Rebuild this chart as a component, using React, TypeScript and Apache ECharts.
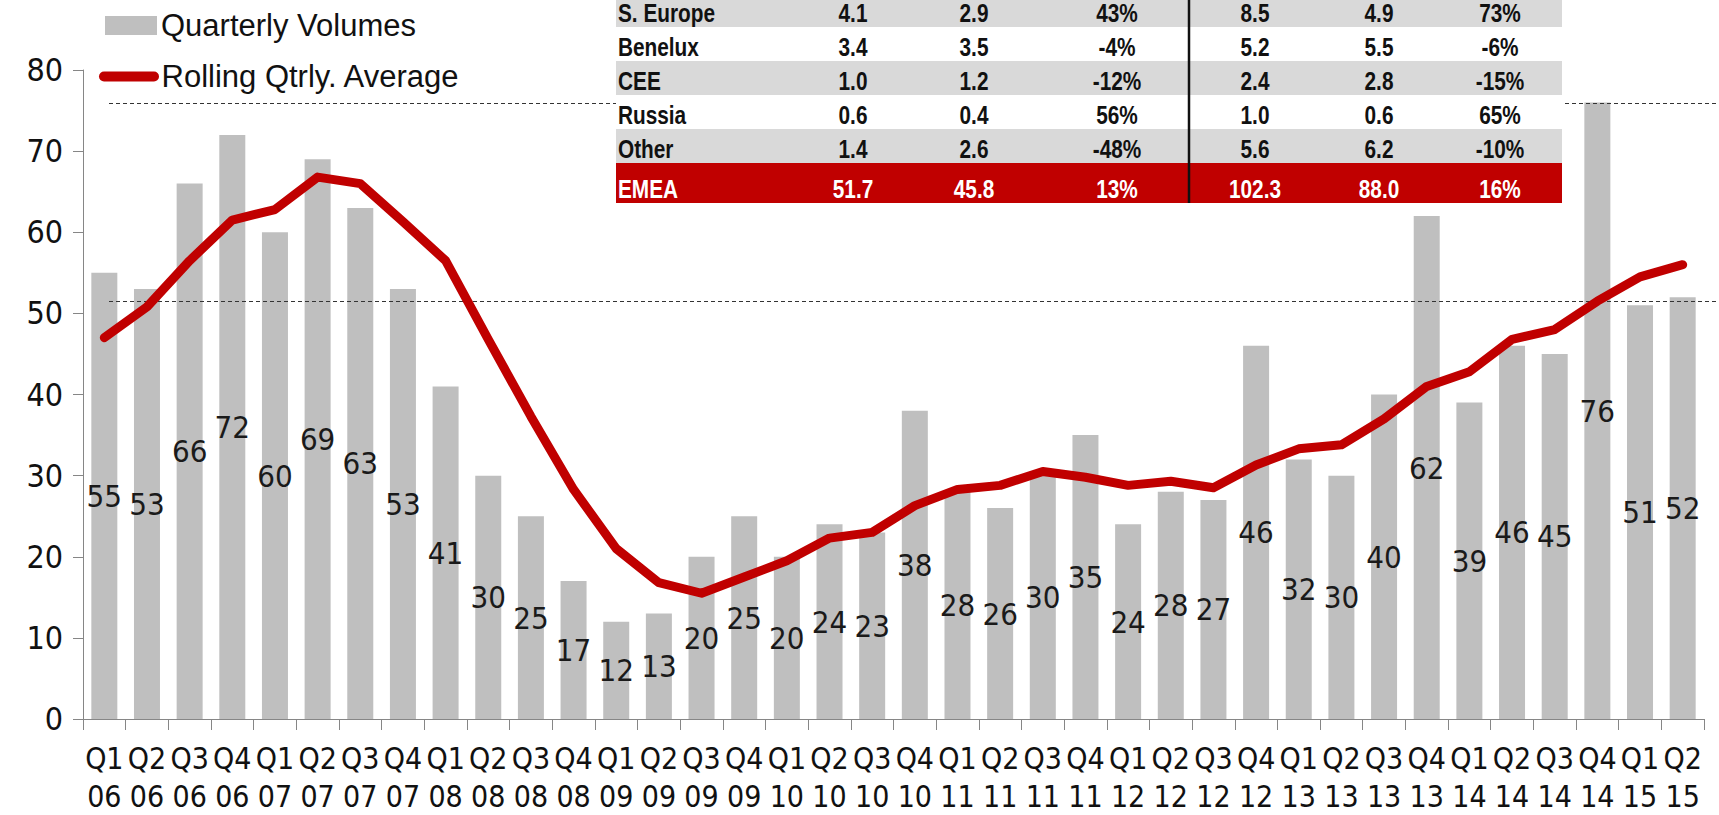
import React, { useEffect, useRef } from "react";
import * as echarts from "echarts";

// ---------- data ----------
const quarters = ["Q1","Q2","Q3","Q4","Q1","Q2","Q3","Q4","Q1","Q2","Q3","Q4","Q1","Q2","Q3","Q4","Q1","Q2","Q3","Q4","Q1","Q2","Q3","Q4","Q1","Q2","Q3","Q4","Q1","Q2","Q3","Q4","Q1","Q2","Q3","Q4","Q1","Q2"];
const years = ["06","06","06","06","07","07","07","07","08","08","08","08","09","09","09","09","10","10","10","10","11","11","11","11","12","12","12","12","13","13","13","13","14","14","14","14","15","15"];
const quarterlyVolumes = [55,53,66,72,60,69,63,53,41,30,25,17,12,13,20,25,20,24,23,38,28,26,30,35,24,28,27,46,32,30,40,62,39,46,45,76,51,52];
const rollingAverage = [47,50.8,56.5,61.5,62.8,66.8,66,61.3,56.5,46.8,37.3,28.3,21,16.8,15.5,17.5,19.5,22.3,23,26.3,28.3,28.8,30.5,29.8,28.8,29.3,28.5,31.3,33.3,33.8,37,41,42.8,46.8,48,51.5,54.5,56];
const referenceLevels = [76, 51.7];
const yTicks = { min: 0, max: 80, interval: 10 };

const seriesNames = ["Quarterly Volumes", "Rolling Qtrly. Average"];

const tableRegions = ["S. Europe","Benelux","CEE","Russia","Other","EMEA"];
const colQCurrent = ["4.1","3.4","1.0","0.6","1.4","51.7"];
const colQPrior = ["2.9","3.5","1.2","0.4","2.6","45.8"];
const colQChange = ["43%","-4%","-12%","56%","-48%","13%"];
const colHCurrent = ["8.5","5.2","2.4","1.0","5.6","102.3"];
const colHPrior = ["4.9","5.5","2.8","0.6","6.2","88.0"];
const colHChange = ["73%","-6%","-15%","65%","-10%","16%"];

// ---------- styles ----------
const NARROW = "'Liberation Sans Narrow', 'Arial Narrow', 'DejaVu Sans Condensed', 'Roboto Condensed', 'Liberation Sans', Arial, sans-serif";
const REGULAR = "'Liberation Sans', Arial, sans-serif";
const RED = "#C00000";
const BAR = "#BFBFBF";
const AXIS = "#868686";

function buildTable() {
  const els: any[] = [];
  const left = 616, right = 1562;
  const rowTops = [-7, 27, 61, 95, 129, 163];
  const rowH = [34, 34, 34, 34, 34, 40];
  const fills = ["#D9D9D9", "#FFFFFF", "#D9D9D9", "#FFFFFF", "#D9D9D9", RED];
  const colX = [853, 974, 1117, 1255, 1379, 1500];
  const cols = [colQCurrent, colQPrior, colQChange, colHCurrent, colHPrior, colHChange];
  const font = `bold 26px ${REGULAR}`;
  const sx = 0.8;
  tableRegions.forEach((name, i) => {
    const isTotal = i === tableRegions.length - 1;
    const color = isTotal ? "#FFFFFF" : "#111111";
    const cy = rowTops[i] + rowH[i] / 2 + (isTotal ? 6 : 3);
    els.push({ type: "rect", z: 10, shape: { x: left, y: rowTops[i], width: right - left, height: rowH[i] }, style: { fill: fills[i] } });
    els.push({ type: "text", z: 11, x: left + 2, y: cy, scaleX: sx, style: { text: name, fill: color, font, textAlign: "left", textVerticalAlign: "middle" } });
    cols.forEach((col, c) => {
      els.push({ type: "text", z: 11, x: colX[c], y: cy, scaleX: sx, style: { text: col[i], fill: color, font, textAlign: "center", textVerticalAlign: "middle" } });
    });
  });
  els.push({ type: "line", z: 12, shape: { x1: 1189, y1: -10, x2: 1189, y2: 203 }, style: { stroke: "#111", lineWidth: 2.5 } });
  return els;
}

export default function App() {
  const ref = useRef<HTMLDivElement>(null);
  useEffect(() => {
    if (!ref.current) return;
    const chart = echarts.init(ref.current, undefined, { renderer: "svg" });
    const categories = quarters.map((q, i) => `${q}\n${years[i]}`);
    const option: any = {
      animation: false,
      backgroundColor: "#FFFFFF",
      grid: { left: 83, right: 15, top: 70, bottom: 96, containLabel: false },
      legend: [
        {
          data: [{ name: seriesNames[0], icon: "rect" }],
          left: 105, top: 10, padding: 0, itemWidth: 52, itemHeight: 19, selectedMode: false,
          textStyle: { fontSize: 31, color: "#111", fontFamily: REGULAR, padding: [0, 0, 0, -1] },
        },
        {
          data: [{ name: seriesNames[1], icon: "path://M5,0 L55,0 A5,5 0 0 1 55,10 L5,10 A5,5 0 0 1 5,0 Z" }],
          left: 99, top: 61, padding: 0, itemWidth: 63, itemHeight: 10, selectedMode: false,
          textStyle: { fontSize: 31, color: "#111", fontFamily: REGULAR, padding: [0, 0, 0, -4] },
        },
      ],
      xAxis: {
        type: "category",
        data: categories,
        boundaryGap: true,
        axisLine: { show: true, lineStyle: { color: AXIS, width: 1 } },
        axisTick: { show: true, length: 11, lineStyle: { color: AXIS } },
        axisLabel: { interval: 0, fontSize: 30, lineHeight: 38, margin: 20, color: "#111", fontFamily: NARROW },
        splitLine: { show: false },
      },
      yAxis: {
        type: "value",
        min: yTicks.min, max: yTicks.max, interval: yTicks.interval,
        axisLine: { show: true, lineStyle: { color: AXIS, width: 1 } },
        axisTick: { show: true, length: 10, lineStyle: { color: AXIS } },
        axisLabel: { fontSize: 32, margin: 20, color: "#111", fontFamily: NARROW },
        splitLine: { show: false },
      },
      series: [
        {
          name: seriesNames[0],
          type: "bar",
          data: quarterlyVolumes,
          barWidth: 26,
          z: 1,
          itemStyle: { color: BAR },
          label: {
            show: true, position: "inside", fontSize: 31, color: "#1a1a1a", fontFamily: NARROW,
            formatter: (p: any) => String(Math.round(p.value)),
          },
        },
        {
          name: seriesNames[1],
          type: "line",
          data: rollingAverage,
          z: 5,
          symbol: "none",
          color: RED,
          lineStyle: { color: RED, width: 9, cap: "round", join: "round" },
        },
      ],
    };
    chart.setOption(option);

    const dashed = referenceLevels.map((lvl) => {
      const y = Math.round(chart.convertToPixel({ yAxisIndex: 0 }, lvl) as number) + 1.5;
      return { type: "line", z: 3, shape: { x1: 109, y1: y, x2: 1719, y2: y }, style: { stroke: "#333", lineWidth: 1, lineDash: [4, 3] } };
    });
    chart.setOption({ graphic: { elements: [...dashed, ...buildTable()] } });

    return () => chart.dispose();
  }, []);
  return <div ref={ref} style={{ position: "fixed", left: 0, top: 0, width: 1719, height: 815 }} />;
}
